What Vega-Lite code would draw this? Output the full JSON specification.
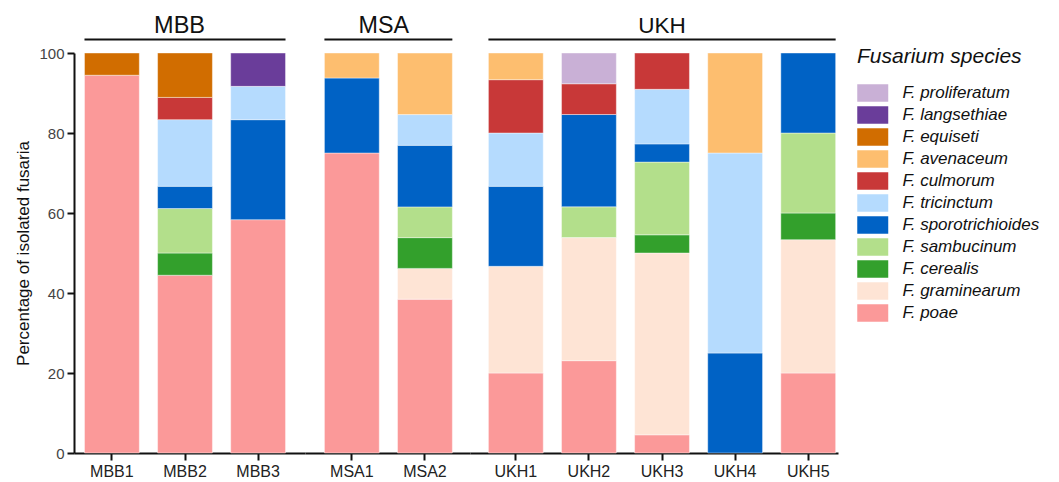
{
  "$schema": "https://vega.github.io/schema/vega-lite/v6.json",
  "padding": {"left": 14, "top": 14, "right": 5, "bottom": 5},
  "datasets": {
    "speciesList": [
      {"species": "F. poae", "rank": 1},
      {"species": "F. graminearum", "rank": 2},
      {"species": "F. cerealis", "rank": 3},
      {"species": "F. sambucinum", "rank": 4},
      {"species": "F. sporotrichioides", "rank": 5},
      {"species": "F. tricinctum", "rank": 6},
      {"species": "F. culmorum", "rank": 7},
      {"species": "F. avenaceum", "rank": 8},
      {"species": "F. equiseti", "rank": 9},
      {"species": "F. langsethiae", "rank": 10},
      {"species": "F. proliferatum", "rank": 11}
    ],
    "fus": [
      {"group": "MBB", "sample": "MBB1", "species": "F. poae", "pct": 94.44},
      {"group": "MBB", "sample": "MBB1", "species": "F. equiseti", "pct": 5.56},
      {"group": "MBB", "sample": "MBB2", "species": "F. poae", "pct": 44.44},
      {"group": "MBB", "sample": "MBB2", "species": "F. cerealis", "pct": 5.56},
      {"group": "MBB", "sample": "MBB2", "species": "F. sambucinum", "pct": 11.11},
      {"group": "MBB", "sample": "MBB2", "species": "F. sporotrichioides", "pct": 5.56},
      {"group": "MBB", "sample": "MBB2", "species": "F. tricinctum", "pct": 16.67},
      {"group": "MBB", "sample": "MBB2", "species": "F. culmorum", "pct": 5.56},
      {"group": "MBB", "sample": "MBB2", "species": "F. equiseti", "pct": 11.11},
      {"group": "MBB", "sample": "MBB3", "species": "F. poae", "pct": 58.33},
      {"group": "MBB", "sample": "MBB3", "species": "F. sporotrichioides", "pct": 25.0},
      {"group": "MBB", "sample": "MBB3", "species": "F. tricinctum", "pct": 8.33},
      {"group": "MBB", "sample": "MBB3", "species": "F. langsethiae", "pct": 8.33},
      {"group": "MSA", "sample": "MSA1", "species": "F. poae", "pct": 75.0},
      {"group": "MSA", "sample": "MSA1", "species": "F. sporotrichioides", "pct": 18.75},
      {"group": "MSA", "sample": "MSA1", "species": "F. avenaceum", "pct": 6.25},
      {"group": "MSA", "sample": "MSA2", "species": "F. poae", "pct": 38.46},
      {"group": "MSA", "sample": "MSA2", "species": "F. graminearum", "pct": 7.69},
      {"group": "MSA", "sample": "MSA2", "species": "F. cerealis", "pct": 7.69},
      {"group": "MSA", "sample": "MSA2", "species": "F. sambucinum", "pct": 7.69},
      {"group": "MSA", "sample": "MSA2", "species": "F. sporotrichioides", "pct": 15.38},
      {"group": "MSA", "sample": "MSA2", "species": "F. tricinctum", "pct": 7.69},
      {"group": "MSA", "sample": "MSA2", "species": "F. avenaceum", "pct": 15.38},
      {"group": "UKH", "sample": "UKH1", "species": "F. poae", "pct": 20.0},
      {"group": "UKH", "sample": "UKH1", "species": "F. graminearum", "pct": 26.67},
      {"group": "UKH", "sample": "UKH1", "species": "F. sporotrichioides", "pct": 20.0},
      {"group": "UKH", "sample": "UKH1", "species": "F. tricinctum", "pct": 13.33},
      {"group": "UKH", "sample": "UKH1", "species": "F. culmorum", "pct": 13.33},
      {"group": "UKH", "sample": "UKH1", "species": "F. avenaceum", "pct": 6.67},
      {"group": "UKH", "sample": "UKH2", "species": "F. poae", "pct": 23.08},
      {"group": "UKH", "sample": "UKH2", "species": "F. graminearum", "pct": 30.77},
      {"group": "UKH", "sample": "UKH2", "species": "F. sambucinum", "pct": 7.69},
      {"group": "UKH", "sample": "UKH2", "species": "F. sporotrichioides", "pct": 23.08},
      {"group": "UKH", "sample": "UKH2", "species": "F. culmorum", "pct": 7.69},
      {"group": "UKH", "sample": "UKH2", "species": "F. proliferatum", "pct": 7.69},
      {"group": "UKH", "sample": "UKH3", "species": "F. poae", "pct": 4.55},
      {"group": "UKH", "sample": "UKH3", "species": "F. graminearum", "pct": 45.45},
      {"group": "UKH", "sample": "UKH3", "species": "F. cerealis", "pct": 4.55},
      {"group": "UKH", "sample": "UKH3", "species": "F. sambucinum", "pct": 18.18},
      {"group": "UKH", "sample": "UKH3", "species": "F. sporotrichioides", "pct": 4.55},
      {"group": "UKH", "sample": "UKH3", "species": "F. tricinctum", "pct": 13.64},
      {"group": "UKH", "sample": "UKH3", "species": "F. culmorum", "pct": 9.08},
      {"group": "UKH", "sample": "UKH4", "species": "F. sporotrichioides", "pct": 25.0},
      {"group": "UKH", "sample": "UKH4", "species": "F. tricinctum", "pct": 50.0},
      {"group": "UKH", "sample": "UKH4", "species": "F. avenaceum", "pct": 25.0},
      {"group": "UKH", "sample": "UKH5", "species": "F. poae", "pct": 20.0},
      {"group": "UKH", "sample": "UKH5", "species": "F. graminearum", "pct": 33.33},
      {"group": "UKH", "sample": "UKH5", "species": "F. cerealis", "pct": 6.67},
      {"group": "UKH", "sample": "UKH5", "species": "F. sambucinum", "pct": 20.0},
      {"group": "UKH", "sample": "UKH5", "species": "F. sporotrichioides", "pct": 20.0}
    ]
  },
  "data": {"name": "fus"},
  "transform": [{"lookup": "species", "from": {"data": {"name": "speciesList"}, "key": "species", "fields": ["rank"]}}],
  "spacing": 0,
  "resolve": {"scale": {"x": "independent", "y": "shared", "color": "shared"}},
  "hconcat": [
    {
      "width": 231,
      "height": 400,
      "layer": [
        {
          "transform": [{"filter": "datum.group === 'MBB'"}],
          "mark": {"type": "bar", "stroke": "white", "strokeWidth": 0.7, "strokeOpacity": 0.6},
          "encoding": {
            "x": {"field": "sample", "type": "nominal", "scale": {"paddingInner": 0.25, "paddingOuter": 0.205, "align": 0.35},
              "axis": {"title": null, "labelAngle": 0, "labelFontSize": 16, "labelColor": "#222", "tickSize": 7, "tickWidth": 2, "tickColor": "#111", "domainWidth": 2, "domainColor": "#111", "labelPadding": 3}},
            "y": {"field": "pct", "type": "quantitative", "stack": "zero", "scale": {"domain": [0, 100], "nice": false},
              "axis": {"title": "Percentage of isolated fusaria", "values": [0, 10, 20, 30, 40, 50, 60, 70, 80, 90, 100],
                "labelExpr": "datum.value % 20 === 0 ? datum.label : ''",
                "tickSize": {"condition": {"test": "datum.value % 20 === 0", "value": 7}, "value": 4},
                "grid": false, "titleFontSize": 17, "titleFontWeight": "normal", "titleColor": "#111", "titlePadding": 6,
                "labelFontSize": 15, "labelColor": "#444", "labelPadding": 3, "domainWidth": 2, "domainColor": "#111", "tickWidth": 2, "tickColor": "#111"}},
            "order": {"field": "rank", "type": "quantitative"},
            "color": {"field": "species", "type": "nominal",
              "sort": ["F. proliferatum", "F. langsethiae", "F. equiseti", "F. avenaceum", "F. culmorum", "F. tricinctum", "F. sporotrichioides", "F. sambucinum", "F. cerealis", "F. graminearum", "F. poae"],
              "scale": {
                "domain": ["F. proliferatum", "F. langsethiae", "F. equiseti", "F. avenaceum", "F. culmorum", "F. tricinctum", "F. sporotrichioides", "F. sambucinum", "F. cerealis", "F. graminearum", "F. poae"],
                "range": ["#c9b0d6", "#6a3d9a", "#d16d00", "#fdbe6f", "#c83838", "#b5dbfe", "#0062c5", "#b3df8b", "#33a02c", "#fee4d5", "#fb9999"]},
              "legend": {"title": "Fusarium species", "titleFontSize": 21, "titleFontStyle": "italic", "titleFontWeight": "normal", "titleColor": "#111", "titlePadding": 2, "titleBaseline": "middle",
                "labelFontSize": 17, "labelFontStyle": "italic", "labelColor": "#111", "labelOffset": 19.5, "labelLimit": 300,
                "symbolType": "M-1,-0.686H1.431V0.686H-1Z", "symbolSize": 650, "symbolStrokeWidth": 0, "symbolOpacity": 1, "rowPadding": 0, "padding": 4, "offset": 14.5}}
          }
        },
        {
          "data": {"values": [{"label": "MBB"}]},
          "mark": {"type": "rule", "strokeWidth": 2, "color": "#111"},
          "encoding": {"x": {"datum": "MBB1", "bandPosition": 0}, "x2": {"datum": "MBB3", "bandPosition": 1}, "y": {"datum": 103.4}}
        },
        {
          "data": {"values": [{"label": "MBB"}]},
          "mark": {"type": "text", "fontSize": 23.5, "baseline": "alphabetic", "color": "#111"},
          "encoding": {"x": {"datum": "MBB2", "bandPosition": 0.4}, "y": {"datum": 104.9}, "text": {"field": "label"}}
        }
      ]
    },
    {
      "width": 165,
      "height": 400,
      "layer": [
        {
          "transform": [{"filter": "datum.group === 'MSA'"}],
          "mark": {"type": "bar", "stroke": "white", "strokeWidth": 0.7, "strokeOpacity": 0.6},
          "encoding": {
            "x": {"field": "sample", "type": "nominal", "scale": {"paddingInner": 0.25, "paddingOuter": 0.2535, "align": 0.524},
              "axis": {"title": null, "labelAngle": 0, "labelFontSize": 16, "labelColor": "#222", "tickSize": 7, "tickWidth": 2, "tickColor": "#111", "domainWidth": 2, "domainColor": "#111", "labelPadding": 3}},
            "y": {"field": "pct", "type": "quantitative", "stack": "zero", "scale": {"domain": [0, 100], "nice": false}, "axis": null},
            "order": {"field": "rank", "type": "quantitative"},
            "color": {"field": "species", "type": "nominal",
              "sort": ["F. proliferatum", "F. langsethiae", "F. equiseti", "F. avenaceum", "F. culmorum", "F. tricinctum", "F. sporotrichioides", "F. sambucinum", "F. cerealis", "F. graminearum", "F. poae"]}
          }
        },
        {
          "data": {"values": [{"label": "MSA"}]},
          "mark": {"type": "rule", "strokeWidth": 2, "color": "#111"},
          "encoding": {"x": {"datum": "MSA1", "bandPosition": 0}, "x2": {"datum": "MSA2", "bandPosition": 1}, "y": {"datum": 103.4}}
        },
        {
          "data": {"values": [{"label": "MSA"}]},
          "mark": {"type": "text", "fontSize": 23.3, "baseline": "alphabetic", "color": "#111"},
          "encoding": {"x": {"datum": "MSA1", "bandPosition": 1.084}, "y": {"datum": 104.9}, "text": {"field": "label"}}
        }
      ]
    },
    {
      "width": 368,
      "height": 400,
      "layer": [
        {
          "transform": [{"filter": "datum.group === 'UKH'"}],
          "mark": {"type": "bar", "stroke": "white", "strokeWidth": 0.7, "strokeOpacity": 0.6},
          "encoding": {
            "x": {"field": "sample", "type": "nominal", "scale": {"paddingInner": 0.25, "paddingOuter": 0.142, "align": 0.887},
              "axis": {"title": null, "labelAngle": 0, "labelFontSize": 16, "labelColor": "#222", "tickSize": 7, "tickWidth": 2, "tickColor": "#111", "domainWidth": 2, "domainColor": "#111", "labelPadding": 3}},
            "y": {"field": "pct", "type": "quantitative", "stack": "zero", "scale": {"domain": [0, 100], "nice": false}, "axis": null},
            "order": {"field": "rank", "type": "quantitative"},
            "color": {"field": "species", "type": "nominal",
              "sort": ["F. proliferatum", "F. langsethiae", "F. equiseti", "F. avenaceum", "F. culmorum", "F. tricinctum", "F. sporotrichioides", "F. sambucinum", "F. cerealis", "F. graminearum", "F. poae"]}
          }
        },
        {
          "data": {"values": [{"label": "UKH"}]},
          "mark": {"type": "rule", "strokeWidth": 2, "color": "#111"},
          "encoding": {"x": {"datum": "UKH1", "bandPosition": 0}, "x2": {"datum": "UKH5", "bandPosition": 1}, "y": {"datum": 103.4}}
        },
        {
          "data": {"values": [{"label": "UKH"}]},
          "mark": {"type": "text", "fontSize": 22.5, "baseline": "alphabetic", "color": "#111"},
          "encoding": {"x": {"datum": "UKH3"}, "y": {"datum": 104.9}, "text": {"field": "label"}}
        }
      ]
    }
  ],
  "config": {
    "font": "Liberation Sans",
    "view": {"stroke": null}
  }
}
